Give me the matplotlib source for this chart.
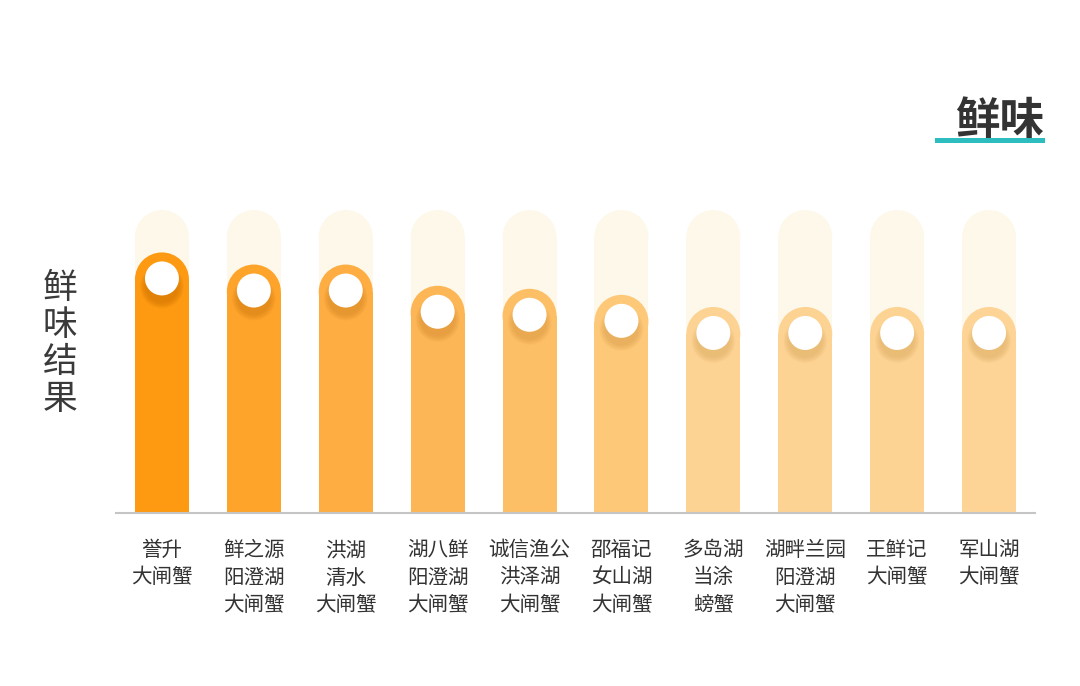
import numpy as np
import matplotlib.pyplot as plt
from matplotlib.patches import Ellipse, Rectangle

plt.rcParams['font.family'] = ['Noto Sans CJK SC', 'DejaVu Sans']

# -----------------------------
# Datos
# -----------------------------
brands = ["誉升\n大闸蟹", "鲜之源\n阳澄湖\n大闸蟹", "洪湖\n清水\n大闸蟹", "湖八鲜\n阳澄湖\n大闸蟹",
          "诚信渔公\n洪泽湖\n大闸蟹", "邵福记\n女山湖\n大闸蟹", "多岛湖\n当涂\n螃蟹",
          "湖畔兰园\n阳澄湖\n大闸蟹", "王鲜记\n大闸蟹", "军山湖\n大闸蟹"]
scores = [8.6, 8.2, 8.2, 7.5, 7.4, 7.2, 6.8, 6.8, 6.8, 6.8]
full_score = 10
bar_colors = ["#FE9A12", "#FFA42B", "#FEAD42", "#FDB655", "#FDBF66",
              "#FDC878", "#FDD393", "#FDD393", "#FDD393", "#FDD496"]
shadow_colors = ["#C96F00", "#CF7A12", "#D38420", "#D68C30", "#D8963D",
                 "#DA9E4A", "#DDAA60", "#DDAA60", "#DDAA60", "#DDAA60"]

# -----------------------------
# Figura
# -----------------------------
W, H = 1080, 686
fig = plt.figure(figsize=(W / 100, H / 100), dpi=100)
ax = fig.add_axes([116 / W, 173 / H, 919 / W, 303 / H])
ax.set_xlim(-0.5, len(scores) - 0.5)
ax.set_ylim(0, full_score)

px_x = 919 / len(scores)   # pixeles por unidad x
px_y = 303 / full_score    # pixeles por unidad y

bw = 54 / px_x
cap_h = 54 / px_y


def pill(x, top, color, z):
    ax.add_patch(Rectangle((x - bw / 2, 0), bw, top - cap_h / 2, color=color, lw=0, zorder=z))
    ax.add_patch(Ellipse((x, top - cap_h / 2), bw, cap_h, color=color, lw=0, zorder=z))


for i, (v, c, sc) in enumerate(zip(scores, bar_colors, shadow_colors)):
    pill(i, full_score, "#FDF8EA", 1)
    pill(i, v, c, 2)
    cy = v - 26 / px_y
    # sombra del círculo
    for k in range(8):
        r = 22 - k * 0.8
        ax.add_patch(Ellipse((i, cy - 8 / px_y), 2 * r / px_x, 2 * r / px_y,
                             color=sc, alpha=0.08, lw=0, zorder=3))
    ax.add_patch(Ellipse((i, cy), 34 / px_x, 34 / px_y, color="white", lw=0, zorder=4))

for s in ["top", "right", "left"]:
    ax.spines[s].set_visible(False)
ax.spines["bottom"].set_color("#C5C5C5")
ax.spines["bottom"].set_linewidth(1.5)
ax.spines["bottom"].set_zorder(5)
ax.set_yticks([])
ax.set_xticks(range(len(brands)), brands, fontsize=14.8, color="#333333")
ax.tick_params(axis="x", length=0, pad=19)
for lbl in ax.get_xticklabels():
    lbl.set_linespacing(1.3)
    lbl.set_verticalalignment("top")

# etiqueta vertical
fig.text(60 / W, 1 - 344 / H, "\n".join("鲜味结果"), fontsize=25, color="#3A3A3A",
         ha="center", va="center", linespacing=1.08)

# título
fig.patches.append(Rectangle((935 / W, 1 - 143 / H), 110 / W, 5 / H,
                             transform=fig.transFigure, color="#2DBDBE", lw=0, zorder=1))
fig.text(1000 / W, 1 - 121 / H, "鲜味", fontsize=32, fontweight="bold", color="#333333",
         ha="center", va="center", zorder=2)

fig.savefig("out.png", dpi=100, facecolor="white")
